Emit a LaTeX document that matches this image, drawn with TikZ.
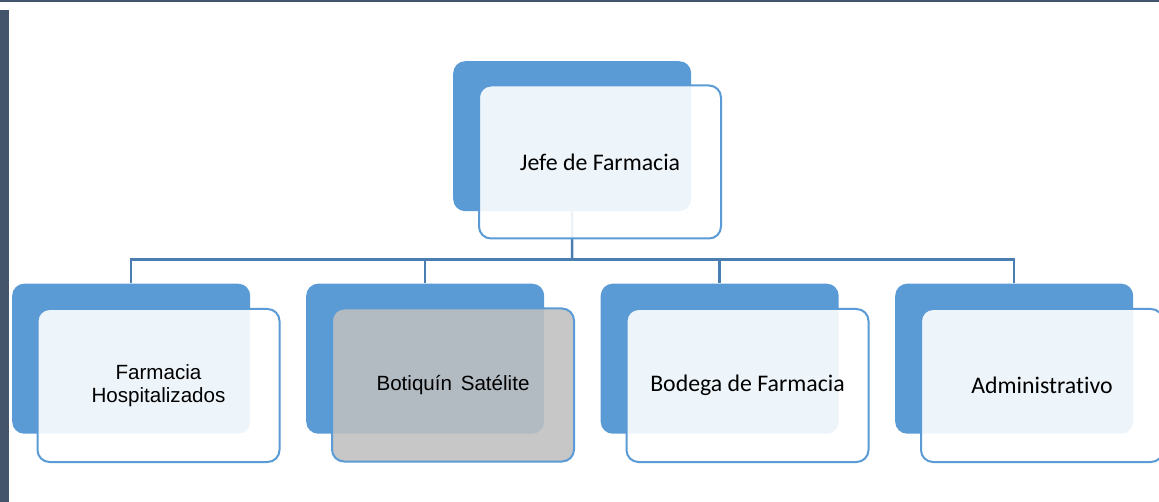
\documentclass[tikz,border=0pt]{standalone}
\usepackage{fontspec}
\setmainfont{Carlito}[Ligatures={NoCommon}]
\newfontfamily\arialf{Liberation Sans}
\definecolor{backblue}{HTML}{5B9BD5}
\definecolor{lineblue}{HTML}{4A7DB0}
\definecolor{framecol}{HTML}{44546A}
\definecolor{greybox}{HTML}{C0C0C0}
\begin{document}
\begin{tikzpicture}[x=1pt,y=-1pt,
  backbox/.style={rectangle, rounded corners=12pt, fill=backblue, minimum width=238pt, minimum height=150pt, anchor=north west, inner sep=0pt},
  frontbox/.style={rectangle, rounded corners=12pt, draw=backblue, line width=2pt, fill=white, fill opacity=0.9, draw opacity=1, text opacity=1, minimum width=242pt, minimum height=153pt, anchor=north west, align=center, text=black, inner sep=0pt},
  greyfront/.style={frontbox, fill=greybox, fill opacity=0.88},
  cal/.style={font=\fontsize{23.8}{28}\selectfont},
  ari/.style={font=\arialf\fontsize{20.6}{22.5}\selectfont},
  conn/.style={draw=lineblue, line width=2.5pt}]
\clip (0,0) rectangle (1159,502);
\fill[white] (0,0) rectangle (1159,502);
\fill[framecol] (0,0) rectangle (1159,2.3);
\fill[framecol] (0,10) rectangle (8.5,502);
% back boxes
\node[backbox] (jb) at (453,61) {};
\node[backbox] (c1b) at (12,283.5) {};
\node[backbox] (c2b) at (306,283.5) {};
\node[backbox] (c3b) at (600.5,283.5) {};
\node[backbox] (c4b) at (895,283.5) {};
% connectors
\coordinate (bus) at (572,259.5);
\draw[conn] (jb.south) -- (bus);
\draw[conn] (bus) -| (c1b.north);
\draw[conn] (bus) -| (c2b.north);
\draw[conn] (bus) -| (c3b.north);
\draw[conn] (bus) -| (c4b.north);
% front boxes
\node[frontbox, cal] (jf) at (478,84.5) {Jefe de Farmacia};
\node[frontbox, ari] (c1f) at (36.5,308) {Farmacia\\Hospitalizados};
\node[greyfront, ari] (c2f) at (331,307.5) {Botiqu\'in\hspace{0.42em}Sat\'elite};
\node[frontbox, cal] (c3f) at (625.5,308) {Bodega de Farmacia};
\node[frontbox, cal] (c4f) at (920,308) {Administrativo};
\end{tikzpicture}
\end{document}
